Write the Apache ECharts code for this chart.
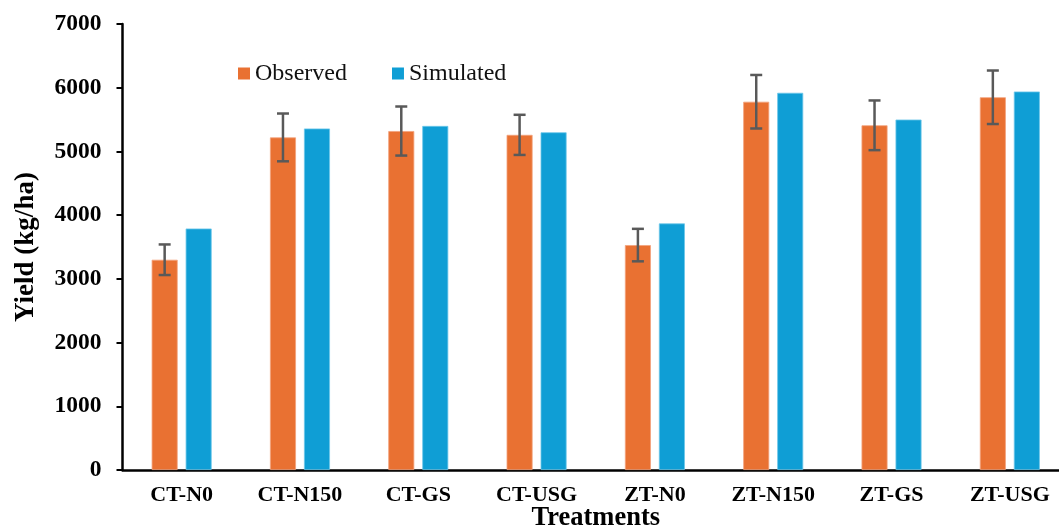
<!DOCTYPE html>
<html>
<head>
<meta charset="utf-8">
<script src="https://cdn.jsdelivr.net/npm/echarts@6/dist/echarts.min.js"></script>
<style>
  html, body { margin: 0; padding: 0; background: #fff; }
  #chart { width: 1059px; height: 529px; }
</style>
</head>
<body>
<div id="chart"></div>
<script>
// Yield by treatment: observed (with error bars) vs simulated
const categories = ['CT-N0', 'CT-N150', 'CT-GS', 'CT-USG', 'ZT-N0', 'ZT-N150', 'ZT-GS', 'ZT-USG'];
const observed = [3300, 5220, 5320, 5260, 3530, 5780, 5410, 5850];
const simulated = [3790, 5360, 5400, 5300, 3870, 5920, 5500, 5940];
const observedErr = [240, 375, 385, 315, 255, 420, 390, 420];
const yTicks = { min: 0, max: 7000, interval: 1000 };

const FONT = "'Liberation Serif', 'Times New Roman', serif";
const BAR_W = 26;
const BAR_GAP_PX = 8;
const CAP_W = 12;

const errData = categories.map((c, i) => [i, observed[i] - observedErr[i], observed[i] + observedErr[i]]);

const chart = echarts.init(document.getElementById('chart'));
chart.setOption({
  animation: false,
  backgroundColor: '#ffffff',
  grid: { left: 122.5, right: -10, top: 24, bottom: 59, containLabel: false, outerBoundsMode: 'none' },
  legend: {
    data: ['Observed', 'Simulated'],
    left: 238, top: 61.5, padding: 0,
    icon: 'rect', itemWidth: 12, itemHeight: 12, itemGap: 45,
    itemStyle: { borderWidth: 0 },
    textStyle: { fontFamily: FONT, fontSize: 24, color: '#111' }
  },
  xAxis: {
    type: 'category',
    data: categories,
    name: 'Treatments',
    nameLocation: 'middle',
    nameGap: 35,
    nameMoveOverlap: false,
    nameTextStyle: { fontFamily: FONT, fontSize: 26.5, fontWeight: 'bold', color: '#000' },
    axisLine: { lineStyle: { color: '#000', width: 2.5 } },
    axisTick: { show: false },
    axisLabel: { fontFamily: FONT, fontSize: 22, fontWeight: 'bold', color: '#000', margin: 14 },
    splitLine: { show: false }
  },
  yAxis: {
    type: 'value',
    min: yTicks.min, max: yTicks.max, interval: yTicks.interval,
    name: 'Yield (kg/ha)',
    nameLocation: 'middle',
    nameGap: 83,
    nameRotate: 90,
    nameMoveOverlap: false,
    nameTextStyle: { fontFamily: FONT, fontSize: 27, fontWeight: 'bold', color: '#000' },
    axisLine: { show: true, lineStyle: { color: '#000', width: 2.5 } },
    axisTick: { show: true, length: 6, lineStyle: { color: '#000', width: 2 } },
    axisLabel: {
      fontFamily: FONT, fontSize: 23.5, fontWeight: 'bold', color: '#000', margin: 21,
      formatter: function (v) { return String(v); }
    },
    splitLine: { show: false }
  },
  series: [
    {
      name: 'Observed', type: 'bar', data: observed,
      barWidth: BAR_W, barGap: (BAR_GAP_PX / BAR_W * 100) + '%',
      itemStyle: { color: '#E97132', borderColor: '#F2A27C', borderWidth: 0.8 }
    },
    {
      name: 'Simulated', type: 'bar', data: simulated,
      barWidth: BAR_W,
      itemStyle: { color: '#0F9ED5', borderColor: '#6CC6EA', borderWidth: 0.8 }
    },
    {
      name: 'Observed error', type: 'custom', data: errData, z: 10,
      encode: { x: 0, y: [1, 2] },
      renderItem: function (params, api) {
        const lo = api.coord([api.value(0), api.value(1)]);
        const hi = api.coord([api.value(0), api.value(2)]);
        const x = lo[0] - (BAR_W + BAR_GAP_PX) / 2;
        const style = { stroke: '#595959', lineWidth: 2.5 };
        return {
          type: 'group',
          children: [
            { type: 'line', shape: { x1: x, y1: hi[1], x2: x, y2: lo[1] }, style: style },
            { type: 'line', shape: { x1: x - CAP_W / 2, y1: hi[1], x2: x + CAP_W / 2, y2: hi[1] }, style: style },
            { type: 'line', shape: { x1: x - CAP_W / 2, y1: lo[1], x2: x + CAP_W / 2, y2: lo[1] }, style: style }
          ]
        };
      }
    }
  ]
});
</script>
</body>
</html>
